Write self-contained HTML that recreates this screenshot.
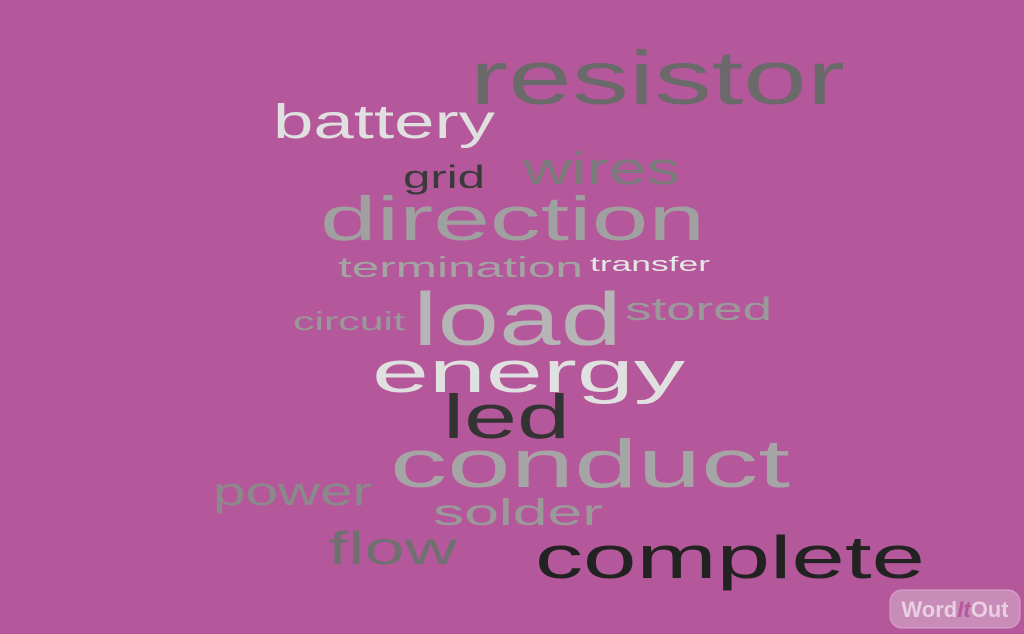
<!DOCTYPE html>
<html><head><meta charset="utf-8"><style>
html,body{margin:0;padding:0;background:#b5589b;}
svg{display:block;}
text{font-family:"Liberation Sans",sans-serif;}
</style></head><body>
<svg width="1024" height="634" viewBox="0 0 1024 634">
<rect width="1024" height="634" fill="#b5589b"/>
<g id="words"></g>
<g>
<rect x="890" y="590" width="130" height="38" rx="12" fill="#c98bb8" stroke="#d9a8cc"/>
<text x="955" y="617" text-anchor="middle" font-size="22" font-weight="bold" fill="#e8d0e2">Word<tspan font-style="italic" fill="#b5589b">It</tspan>Out</text>
</g>
</svg>
<script>
const words=["resistor","battery","grid","wires","direction","termination","transfer","circuit","load","stored","energy","led","conduct","power","solder","flow","complete"];
const xs=[470,273,403,523,320,338,590,293,413,625,372,443,390,213,433,328,535];
const widths=[375,222,82,157,385,245,120,112,209,147,313,127,400,159,170,129,390];
const baselines=[104,138,188,184,240,277,271,330,345,320,392,438,487,505,525,564,578];
const sizes=[76,48,32,45,62,29,20,26,75,32,58,62,68,40,37,46,60];
const colors=["#6a6a6a","#e0e0e0","#3a3a3a","#7a7a7a","#a0a0a0","#a3a3a3","#e6e6e6","#999999","#b5b5b5","#9a9a9a","#e0e0e0","#333333","#a5a5a5","#8a8a8a","#9a9a9a","#707070","#222222"];
const g=document.getElementById('words');
const NS="http://www.w3.org/2000/svg";
words.forEach((w,i)=>{
const t=document.createElementNS(NS,'text');
t.setAttribute('x',xs[i]);t.setAttribute('y',baselines[i]);
t.setAttribute('font-size',sizes[i]);t.setAttribute('fill',colors[i]);
t.setAttribute('textLength',widths[i]);t.setAttribute('lengthAdjust','spacingAndGlyphs');
t.textContent=w;


g.appendChild(t);
});
</script>
</body></html>
